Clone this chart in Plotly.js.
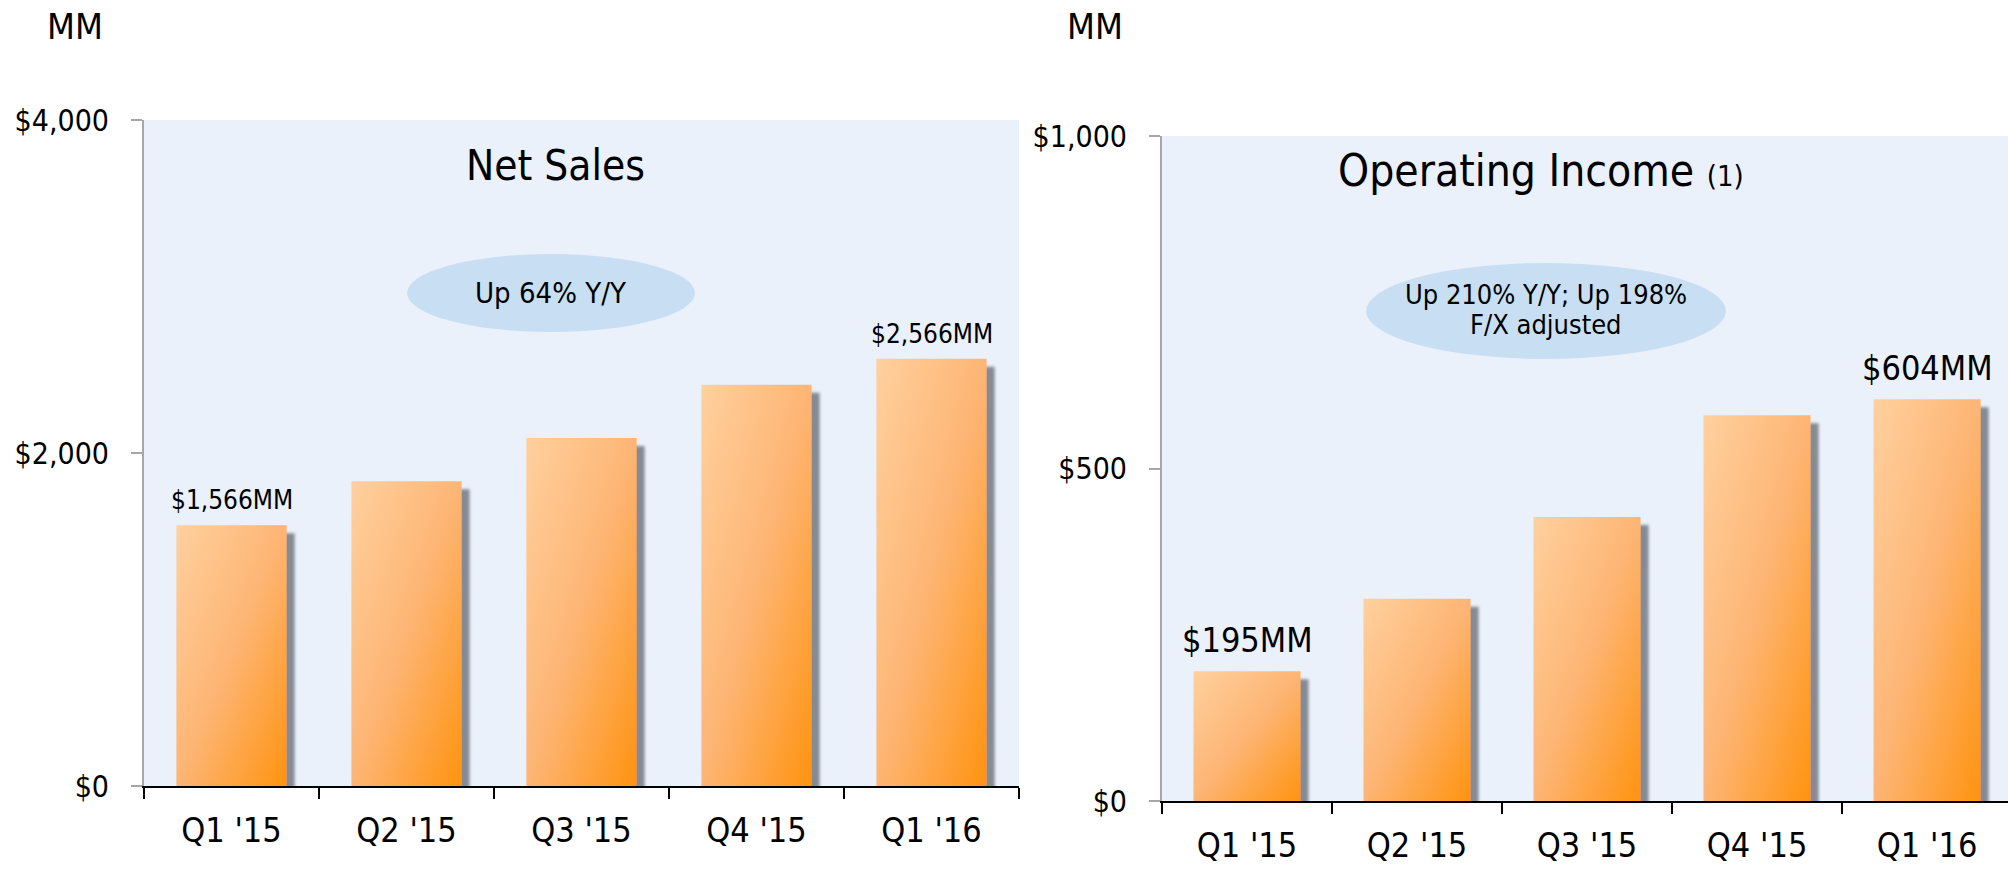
<!DOCTYPE html>
<html>
<head>
<meta charset="utf-8">
<script src="https://cdn.plot.ly/plotly-3.0.1.min.js"></script>
<style>
  html, body { margin: 0; padding: 0; background: #ffffff; }
  #chart { width: 2008px; height: 874px; }
</style>
</head>
<body>
<div id="chart"></div>
<script>
// ---- data ----
const categories = ["Q1 '15", "Q2 '15", "Q3 '15", "Q4 '15", "Q1 '16"];
const netSales = [1566, 1830, 2090, 2410, 2566];
const operatingIncome = [195, 304, 427, 580, 604];
const netSalesLabels = ["$1,566MM", "", "", "", "$2,566MM"];
const opIncomeLabels = ["$195MM", "", "", "", "$604MM"];
const netSalesTickVals = [0, 2000, 4000];
const netSalesTickText = ["$0", "$2,000", "$4,000"];
const opTickVals = [0, 500, 1000];
const opTickText = ["$0", "$500", "$1,000"];

// ---- geometry helpers (pixel -> paper) ----
const W = 2008, H = 874;
const px = v => v / W;
const py = v => 1 - v / H;
const FONT = "'DejaVu Sans Condensed', 'Noto Sans', sans-serif";

const traces = [
  { type: 'bar', x: categories, y: netSales, xaxis: 'x', yaxis: 'y',
    marker: { color: '#FDB472', line: { width: 0 } }, hoverinfo: 'skip' },
  { type: 'bar', x: categories, y: operatingIncome, xaxis: 'x2', yaxis: 'y2',
    marker: { color: '#FDB472', line: { width: 0 } }, hoverinfo: 'skip' }
];

function xAxis(domain, range, anchor) {
  return {
    domain: domain, range: range, type: 'category', anchor: anchor,
    showline: true, linecolor: '#000000', linewidth: 2,
    ticks: 'outside', tickson: 'boundaries', ticklen: 11, tickwidth: 2, tickcolor: '#000000',
    ticklabelstandoff: 13,
    tickfont: { family: FONT, size: 34, color: '#000000' },
    showgrid: false, zeroline: false, fixedrange: true
  };
}
function yAxis(domain, range, vals, text, anchor) {
  return {
    domain: domain, range: range, anchor: anchor,
    showline: true, linecolor: '#A6A6A6', linewidth: 2,
    ticks: 'outside', ticklen: 11, tickwidth: 2, tickcolor: '#A6A6A6',
    tickmode: 'array', tickvals: vals, ticktext: text,
    ticklabelstandoff: 16,
    tickfont: { family: FONT, size: 30, color: '#000000' },
    showgrid: false, zeroline: false, fixedrange: true
  };
}

const annotations = [];
function addText(text, x, y, size) {
  annotations.push({ xref: 'paper', yref: 'paper', x: px(x), y: py(y), text: text,
    showarrow: false, xanchor: 'center', yanchor: 'middle',
    font: { family: FONT, size: size, color: '#000000' } });
}
addText('MM', 75, 26, 36);
addText('MM', 1095, 26, 36);
addText('Net Sales', 555, 165, 42);
addText('Operating Income <span style="font-size:29px">(1)</span>', 1541, 170, 44);
addText('Up 64% Y/Y', 551, 293, 29);
addText('Up 210% Y/Y; Up 198%', 1546, 294, 27);
addText('F/X adjusted', 1546, 324, 27);

netSalesLabels.forEach((t, i) => {
  if (!t) return;
  annotations.push({ xref: 'x', yref: 'y', x: categories[i], y: netSales[i], text: t,
    showarrow: false, xanchor: 'center', yanchor: 'bottom', yshift: 8,
    font: { family: FONT, size: 26, color: '#000000' } });
});
opIncomeLabels.forEach((t, i) => {
  if (!t) return;
  annotations.push({ xref: 'x2', yref: 'y2', x: categories[i], y: operatingIncome[i], text: t,
    showarrow: false, xanchor: 'center', yanchor: 'bottom', yshift: 9,
    font: { family: FONT, size: 34, color: '#000000' } });
});

const shapes = [
  { type: 'circle', xref: 'paper', yref: 'paper', x0: px(407), x1: px(695), y0: py(332), y1: py(254),
    fillcolor: '#C8DFF3', line: { width: 0 }, layer: 'above' },
  { type: 'circle', xref: 'paper', yref: 'paper', x0: px(1366), x1: px(1726), y0: py(359), y1: py(263),
    fillcolor: '#C8DFF3', line: { width: 0 }, layer: 'above' }
];

const layout = {
  width: W, height: H,
  margin: { l: 0, r: 0, t: 0, b: 0, pad: 0 },
  paper_bgcolor: '#FFFFFF', plot_bgcolor: '#EAF1FB',
  showlegend: false, bargap: 0.37,
  xaxis: xAxis([px(144), px(1019)], [-0.5, 4.5], 'y'),
  yaxis: yAxis([1 - 786 / H, 1 - 120 / H], [0, 4000], netSalesTickVals, netSalesTickText, 'x'),
  xaxis2: xAxis([px(1162), 1], [-0.5, 4.476], 'y2'),
  yaxis2: yAxis([1 - 801 / H, 1 - 136 / H], [0, 1000], opTickVals, opTickText, 'x2'),
  annotations: annotations,
  shapes: shapes,
  font: { family: FONT, color: '#000000' }
};

Plotly.newPlot('chart', traces, layout, { staticPlot: true, displayModeBar: false }).then(gd => {
  const NS = 'http://www.w3.org/2000/svg';
  const svg = gd.querySelector('svg.main-svg');
  let defs = svg.querySelector('defs');
  if (!defs) { defs = document.createElementNS(NS, 'defs'); svg.insertBefore(defs, svg.firstChild); }
  const grad = document.createElementNS(NS, 'linearGradient');
  grad.setAttribute('id', 'barGrad');
  grad.setAttribute('x1', '0'); grad.setAttribute('y1', '0');
  grad.setAttribute('x2', '1'); grad.setAttribute('y2', '1');
  [['0', '#FFD09E'], ['0.5', '#FDB574'], ['1', '#FF930F']].forEach(([o, c]) => {
    const s = document.createElementNS(NS, 'stop');
    s.setAttribute('offset', o); s.setAttribute('stop-color', c);
    grad.appendChild(s);
  });
  defs.appendChild(grad);
  const filt = document.createElementNS(NS, 'filter');
  filt.setAttribute('id', 'barShadow');
  filt.setAttribute('x', '-10%'); filt.setAttribute('y', '-10%');
  filt.setAttribute('width', '140%'); filt.setAttribute('height', '130%');
  const ds = document.createElementNS(NS, 'feDropShadow');
  ds.setAttribute('dx', '8'); ds.setAttribute('dy', '8');
  ds.setAttribute('stdDeviation', '1.8');
  ds.setAttribute('flood-color', '#858B94'); ds.setAttribute('flood-opacity', '1');
  filt.appendChild(ds);
  defs.appendChild(filt);
  gd.querySelectorAll('.barlayer .point path').forEach(p => {
    p.style.fill = 'url(#barGrad)';
    p.setAttribute('filter', 'url(#barShadow)');
  });
});
</script>
</body>
</html>
